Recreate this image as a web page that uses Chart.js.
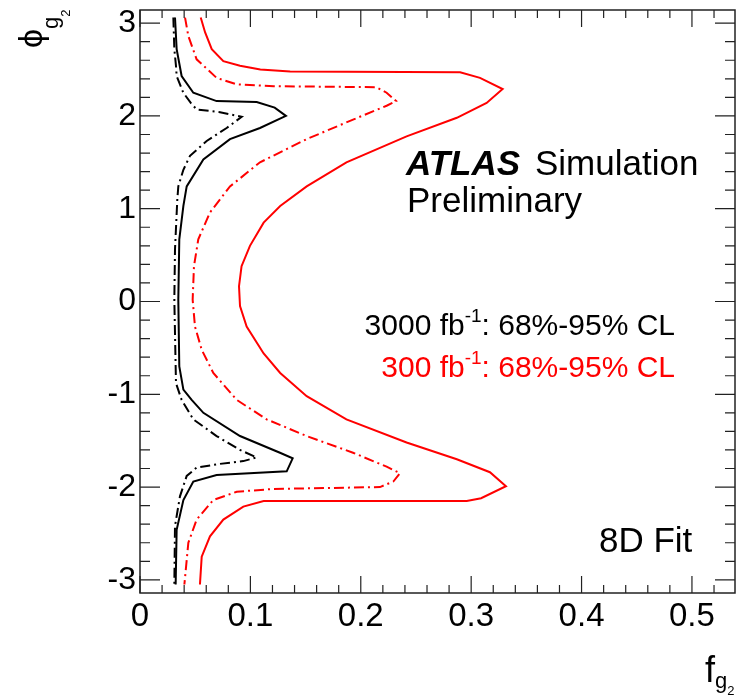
<!DOCTYPE html>
<html>
<head>
<meta charset="utf-8">
<script src="https://cdn.jsdelivr.net/npm/chart.js@4/dist/chart.umd.min.js"></script>
<style>body{margin:0;background:#fff}</style>
</head>
<body>
<canvas id="contours" width="738" height="699"></canvas>
<script>
// 3000 fb-1, 68% CL (black dash-dot)
var l3000_68_f = [0.0302, 0.0311, 0.0326, 0.0332, 0.0392, 0.046, 0.0513, 0.0725, 0.0921, 0.0785, 0.0604, 0.0453, 0.0393, 0.0347, 0.0338, 0.0317, 0.0311, 0.0326, 0.0377, 0.0483, 0.0694, 0.0906, 0.1057, 0.0936, 0.0725, 0.0513, 0.0423, 0.0362, 0.0317, 0.0311];
var l3000_68_phi = [3.06, 2.72, 2.54, 2.43, 2.25, 2.14, 2.07, 2.04, 1.99, 1.87, 1.73, 1.57, 1.42, 1.24, 1.10, 0.56, 0.02, -0.88, -1.06, -1.27, -1.45, -1.60, -1.68, -1.72, -1.75, -1.79, -1.88, -2.10, -2.42, -3.05];
// 3000 fb-1, 95% CL (black solid)
var l3000_95_f = [0.0317, 0.0332, 0.0377, 0.0483, 0.0694, 0.1057, 0.122, 0.1322, 0.1087, 0.0815, 0.0574, 0.0423, 0.0393, 0.0356, 0.0347, 0.0356, 0.0393, 0.0468, 0.0574, 0.0906, 0.1268, 0.1383, 0.1329, 0.0694, 0.0483, 0.0393, 0.0332, 0.0323];
var l3000_95_phi = [3.06, 2.72, 2.43, 2.25, 2.16, 2.15, 2.09, 2.00, 1.87, 1.75, 1.53, 1.24, 1.03, 0.67, 0.02, -0.70, -0.95, -1.06, -1.20, -1.45, -1.63, -1.69, -1.83, -1.87, -1.94, -2.14, -2.46, -3.05];
// 300 fb-1, 68% CL (red dash-dot)
var l300_68_f = [0.0408, 0.0438, 0.0513, 0.0694, 0.0876, 0.121, 0.214, 0.2234, 0.232, 0.2234, 0.193, 0.151, 0.1087, 0.0815, 0.0634, 0.0528, 0.0489, 0.0477, 0.0498, 0.0559, 0.0664, 0.0876, 0.1147, 0.151, 0.193, 0.2234, 0.2355, 0.2295, 0.2174, 0.121, 0.0876, 0.0664, 0.0513, 0.0438, 0.0402];
var l300_68_phi = [3.06, 2.86, 2.61, 2.41, 2.34, 2.32, 2.31, 2.25, 2.16, 2.11, 1.96, 1.75, 1.50, 1.24, 0.96, 0.67, 0.38, 0.02, -0.27, -0.52, -0.77, -1.06, -1.27, -1.45, -1.63, -1.78, -1.85, -1.94, -2.00, -2.02, -2.05, -2.14, -2.35, -2.60, -3.05];
// 300 fb-1, 95% CL (red solid)
var l300_95_f = [0.055, 0.059, 0.065, 0.0755, 0.0906, 0.109, 0.136, 0.290, 0.308, 0.3285, 0.314, 0.287, 0.2415, 0.187, 0.151, 0.127, 0.112, 0.0996, 0.092, 0.0897, 0.0906, 0.0966, 0.112, 0.127, 0.151, 0.187, 0.2415, 0.287, 0.317, 0.3315, 0.309, 0.296, 0.112, 0.0936, 0.0755, 0.0634, 0.0559, 0.0543];
var l300_95_phi = [3.06, 2.90, 2.72, 2.59, 2.54, 2.50, 2.48, 2.47, 2.41, 2.29, 2.14, 1.98, 1.78, 1.50, 1.24, 1.03, 0.85, 0.60, 0.38, 0.165, -0.05, -0.27, -0.56, -0.77, -1.02, -1.27, -1.52, -1.70, -1.84, -1.99, -2.12, -2.15, -2.15, -2.21, -2.35, -2.53, -2.75, -3.05];

var xTickVals = [0, 0.1, 0.2, 0.3, 0.4, 0.5];
var xTickLabels = ['0', '0.1', '0.2', '0.3', '0.4', '0.5'];
var yTickVals = [-3, -2, -1, 0, 1, 2, 3];

var FONT = '"Liberation Sans", Arial, Helvetica, sans-serif';
var dashDot = [10, 4, 2, 4];

function pts(xs, ys) {
  return xs.map(function (x, i) { return { x: x, y: ys[i] }; });
}
function curve(label, xs, ys, color, dash) {
  return {
    label: label,
    data: pts(xs, ys),
    showLine: true,
    borderColor: color,
    borderWidth: 2,
    borderDash: dash,
    pointRadius: 0,
    tension: 0,
    fill: false
  };
}

// text made of pieces: [text, size, dy, style]
function drawParts(ctx, x, y, parts, color, align) {
  var total = 0;
  parts.forEach(function (p) { ctx.font = (p[3] || '') + p[1] + 'px ' + FONT; total += ctx.measureText(p[0]).width; });
  var cx = align === 'right' ? x - total : x;
  ctx.fillStyle = color;
  ctx.textAlign = 'left';
  ctx.textBaseline = 'alphabetic';
  parts.forEach(function (p) {
    ctx.font = (p[3] || '') + p[1] + 'px ' + FONT;
    ctx.fillText(p[0], cx, y + p[2]);
    cx += ctx.measureText(p[0]).width;
  });
}

var rootFrame = {
  id: 'rootFrame',
  afterDraw: function (chart) {
    var ctx = chart.ctx, a = chart.chartArea;
    var xs = chart.scales.x, ys = chart.scales.y;
    ctx.save();
    ctx.strokeStyle = '#222';
    ctx.lineWidth = 1.5;
    ctx.strokeRect(a.left, a.top, a.right - a.left, a.bottom - a.top);
    ctx.lineWidth = 1.2;
    ctx.beginPath();
    // x ticks, bottom and top, pointing inward
    for (var i = 0; i <= 27; i++) {
      var px = xs.getPixelForValue(i * 0.02);
      if (px > a.right - 1) break;
      var len = (i % 5 === 0) ? 17 : 8;
      ctx.moveTo(px, a.bottom); ctx.lineTo(px, a.bottom - len);
      ctx.moveTo(px, a.top); ctx.lineTo(px, a.top + len);
    }
    // y ticks, left and right
    for (var j = -15; j <= 15; j++) {
      var py = ys.getPixelForValue(j * 0.2);
      var ylen = (j % 5 === 0) ? 20 : 10;
      ctx.moveTo(a.left, py); ctx.lineTo(a.left + ylen, py);
      ctx.moveTo(a.right, py); ctx.lineTo(a.right - ylen, py);
    }
    ctx.stroke();

    ctx.textBaseline = 'alphabetic';
    ctx.textAlign = 'left';
    ctx.fillStyle = '#000';
    ctx.font = 'italic bold 35px ' + FONT;
    ctx.fillText('ATLAS', 406, 175);
    ctx.font = '35px ' + FONT;
    ctx.fillText('Simulation', 535, 175);
    ctx.fillText('Preliminary', 407, 212);

    drawParts(ctx, 675, 335, [['3000 fb', 30, 0], ['-1', 19, -13], [': 68%-95% CL', 30, 0]], '#000', 'right');
    drawParts(ctx, 675, 377, [['300 fb', 30, 0], ['-1', 19, -13], [': 68%-95% CL', 30, 0]], '#ff0000', 'right');

    ctx.fillStyle = '#000';
    ctx.font = '35px ' + FONT;
    ctx.fillText('8D Fit', 599, 552);

    // x title f_{g_2}
    drawParts(ctx, 705, 682, [['f', 36, 0], ['g', 22, 6], ['2', 13, 13]], '#000', 'left');

    // y title phi_{g_2}, rotated
    ctx.save();
    ctx.translate(42, 48);
    ctx.rotate(-Math.PI / 2);
    drawParts(ctx, 0, 0, [['\u03d5', 34, 0], ['g', 22, 16], ['2', 13, 28]], '#000', 'left');
    ctx.restore();
    ctx.restore();
  }
};

new Chart(document.getElementById('contours'), {
  type: 'scatter',
  data: {
    datasets: [
      curve('3000 fb-1 68% CL', l3000_68_f, l3000_68_phi, '#000000', dashDot),
      curve('3000 fb-1 95% CL', l3000_95_f, l3000_95_phi, '#000000', []),
      curve('300 fb-1 68% CL', l300_68_f, l300_68_phi, '#ff0000', dashDot),
      curve('300 fb-1 95% CL', l300_95_f, l300_95_phi, '#ff0000', [])
    ]
  },
  options: {
    responsive: false,
    animation: false,
    layout: { padding: { top: 10, right: 3, left: 0, bottom: 0 } },
    plugins: { legend: { display: false }, tooltip: { enabled: false } },
    scales: {
      x: {
        type: 'linear',
        min: 0,
        max: 0.539,
        afterFit: function (s) { s.height = 106; s.paddingLeft = 0; s.paddingRight = 0; },
        afterBuildTicks: function (s) { s.ticks = xTickVals.map(function (v) { return { value: v }; }); },
        grid: { display: false, drawTicks: false },
        border: { display: false },
        ticks: {
          padding: 4,
          color: '#000',
          maxRotation: 0,
          autoSkip: false,
          font: { family: FONT, size: 33 },
          callback: function (v) { var k = xTickVals.indexOf(v); return k >= 0 ? xTickLabels[k] : ''; }
        }
      },
      y: {
        type: 'linear',
        min: -Math.PI,
        max: Math.PI,
        afterFit: function (s) { s.width = 140; s.paddingTop = 0; s.paddingBottom = 0; },
        afterBuildTicks: function (s) { s.ticks = yTickVals.map(function (v) { return { value: v }; }); },
        grid: { display: false, drawTicks: false },
        border: { display: false },
        ticks: {
          padding: 4,
          color: '#000',
          autoSkip: false,
          font: { family: FONT, size: 32 },
          callback: function (v) { return String(v); }
        }
      }
    }
  },
  plugins: [rootFrame]
});
</script>
</body>
</html>
